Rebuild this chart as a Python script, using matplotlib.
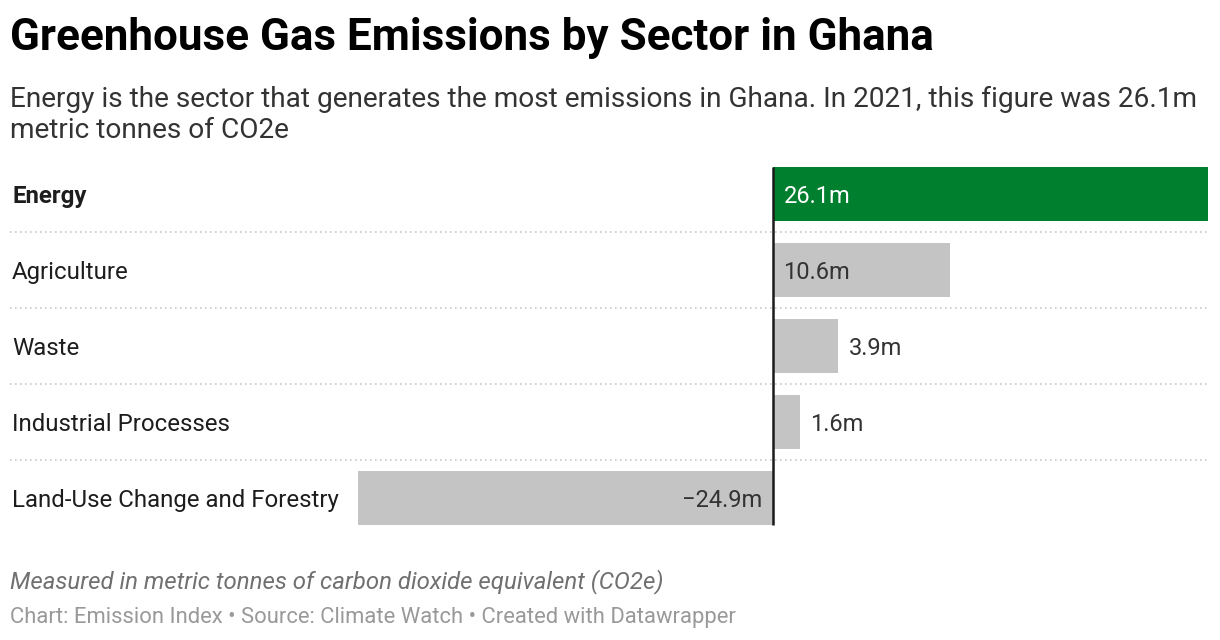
import matplotlib
matplotlib.use("Agg")
import matplotlib.pyplot as plt
import matplotlib.transforms as mtransforms

plt.rcParams['font.family'] = ['Roboto', 'DejaVu Sans']

# --- data ---
sectors = ['Energy', 'Agriculture', 'Waste', 'Industrial Processes', 'Land-Use Change and Forestry']
emissions = [26.1, 10.6, 3.9, 1.6, -24.9]
value_labels = ['26.1m', '10.6m', '3.9m', '1.6m', '\u221224.9m']
highlight = 'Energy'

title = 'Greenhouse Gas Emissions by Sector in Ghana'
subtitle = ['Energy is the sector that generates the most emissions in Ghana. In 2021, this figure was 26.1m',
            'metric tonnes of CO2e']
note = 'Measured in metric tonnes of carbon dioxide equivalent (CO2e)'
source = 'Chart: Emission Index \u2022 Source: Climate Watch \u2022 Created with Datawrapper'

# --- layout (pixels) ---
W, H = 1220, 640
green = '#007f2e'
grey = '#c4c4c4'

fig = plt.figure(figsize=(W / 100, H / 100), dpi=100)
fig.patch.set_facecolor('white')

ax_left, ax_right = 10, 1208
zero_px = 773
row_top, row_bottom = 156, 536
ax = fig.add_axes([ax_left / W, 1 - row_bottom / H, (ax_right - ax_left) / W, (row_bottom - row_top) / H])

xmax = max(emissions)
zero_frac = (zero_px - ax_left) / (ax_right - ax_left)
xmin = -xmax * zero_frac / (1 - zero_frac)
ax.set_xlim(xmin, xmax)
ax.set_ylim(len(sectors) - 0.5, -0.5)
ax.axis('off')

ypos = list(range(len(sectors)))
colors = [green if s == highlight else grey for s in sectors]
ax.barh(ypos, emissions, height=0.70, color=colors, zorder=2)

# dotted separators
for i in range(len(sectors) - 1):
    ax.axhline(i + 0.5, color='#c8c8c8', linewidth=1.2, linestyle=(0, (1, 2)), zorder=1)

# zero line
ax.vlines(0, -0.35, len(sectors) - 1 + 0.35, color='#1a1a1a', linewidth=1.8, zorder=3)

# row labels
lab_tr = mtransforms.blended_transform_factory(fig.transFigure, ax.transData)
for y, s in zip(ypos, sectors):
    ax.text(12 / W, y, s, transform=lab_tr, ha='left', va='center_baseline',
            fontsize=17.3, color='#1d1d1d', fontweight='bold' if s == highlight else 'normal')

# value labels
for y, v, lab, s in zip(ypos, emissions, value_labels, sectors):
    inside = abs(v) > 6
    if v >= 0:
        if inside:
            x, dx, ha = 0, 7.5, 'left'
        else:
            x, dx, ha = v, 7.5, 'left'
    else:
        x, dx, ha = 0, -7.5, 'right'
    c = 'white' if s == highlight else '#333333'
    ax.annotate(lab, (x, y), xytext=(dx, 0), textcoords='offset points',
                ha=ha, va='center_baseline', fontsize=17, color=c, zorder=4)

# titles and footer
fig.text(10 / W, 1 - 50 / H, title, fontsize=31.7, fontweight='bold', color='#000000', va='baseline')
fig.text(10 / W, 1 - 107 / H, subtitle[0], fontsize=20.2, color='#333333', va='baseline')
fig.text(10 / W, 1 - 138 / H, subtitle[1], fontsize=20.2, color='#333333', va='baseline')
fig.text(10 / W, 1 - 588 / H, note, fontsize=17.3, style='italic', color='#707070', va='baseline')
fig.text(10 / W, 1 - 623 / H, source, fontsize=15.8, color='#999999', va='baseline')

fig.savefig('out.png', dpi=100)
